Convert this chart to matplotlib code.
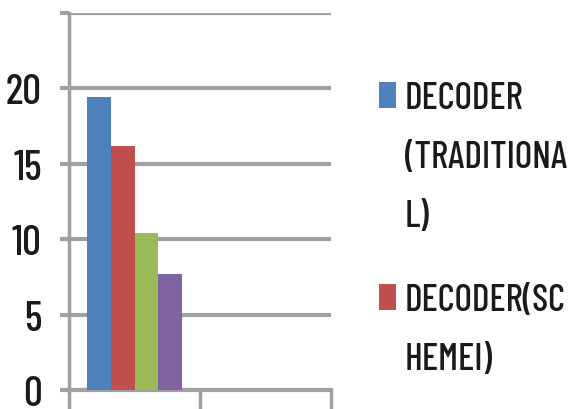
import matplotlib
matplotlib.use("Agg")
import matplotlib.pyplot as plt
from matplotlib.patches import Rectangle
import numpy as np

plt.rcParams['font.family'] = ['Barlow Condensed', 'DejaVu Sans']
plt.rcParams['font.weight'] = 500

# Data
categories = ["", ""]
series_names = ["DECODER\n(TRADITIONA\nL)", "DECODER(SC\nHEMEI)", None, None]
series_values = [
    [19.4, 0],
    [16.2, 0],
    [10.4, 0],
    [7.7, 0],
]
colors = ["#4F81BD", "#C0504D", "#9BBB59", "#8064A2"]
yticks = [0, 5, 10, 15, 20, 25]
yticklabels = ["0", "5", "10", "15", "20", ""]

W, H = 568, 410
fig = plt.figure(figsize=(W / 100, H / 100), dpi=100)
ax = fig.add_axes([69 / W, 1 - 391 / H, (331 - 69) / W, (391 - 14) / H])

grid_c = "#a0a0a0"
bw = 0.183
n = len(series_values)
x0 = np.arange(len(categories)) + 0.5
for i, vals in enumerate(series_values):
    ax.bar(x0 + (i - (n - 1) / 2) * bw, vals, width=bw, color=colors[i],
           zorder=3, linewidth=0)

ax.set_xlim(0, 2)
ax.set_ylim(0, 25)
ax.set_yticks(yticks)
ax.set_yticklabels(yticklabels)
ax.set_xticks([0, 1, 2])
ax.set_xticklabels(["", "", ""])
ax.yaxis.grid(True, color=grid_c, linewidth=3.0, zorder=0)
ax.set_axisbelow(True)
for s in ["top", "right", "bottom"]:
    ax.spines[s].set_visible(False)
ax.spines["left"].set_color(grid_c)
ax.spines["left"].set_linewidth(2.5)
ax.axhline(0, color=grid_c, linewidth=3.0, zorder=2, clip_on=False)
ax.tick_params(axis="y", length=6.5, width=3.0, color=grid_c, pad=13,
               labelsize=30, labelcolor="#1a1a1a")
ax.tick_params(axis="x", length=14, width=2.5, color=grid_c)

# Legend (first two entries visible)
leg_tops = [85, 287]
for i in range(2):
    top = leg_tops[i]
    fig.patches.append(Rectangle((379 / W, 1 - (top - 2 + 26) / H), 17 / W, 26 / H,
                                 transform=fig.transFigure, facecolor=colors[i],
                                 edgecolor="none"))
    fig.text(405 / W, 1 - (top - 3) / H, series_names[i], ha="left", va="top",
             fontsize=27, linespacing=1.92, color="#1a1a1a")

fig.savefig("out.png", dpi=100)
